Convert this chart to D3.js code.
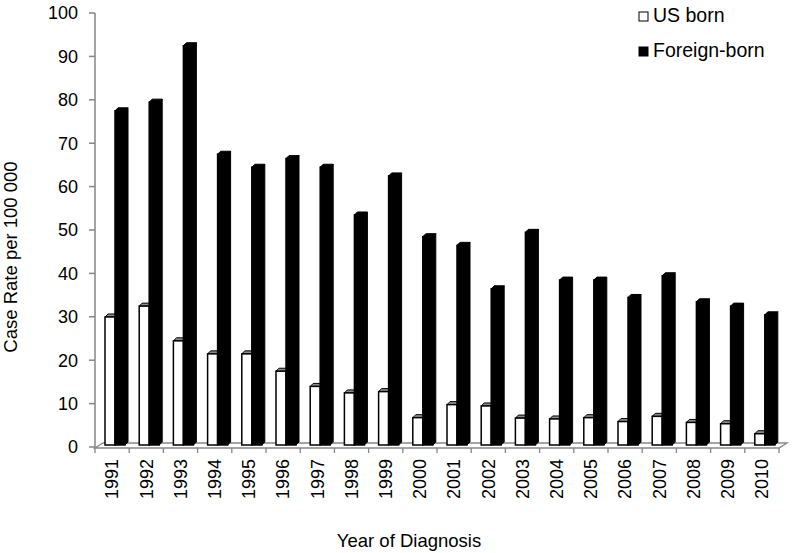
<!DOCTYPE html>
<html>
<head>
<meta charset="utf-8">
<script src="https://cdn.jsdelivr.net/npm/d3@7"></script>
<style>
body { margin: 0; background: #fff; }
text { font-family: "Liberation Sans", Arial, sans-serif; fill: #000; }
</style>
</head>
<body>
<div id="chart"></div>
<script>
var years = ["1991","1992","1993","1994","1995","1996","1997","1998","1999","2000",
             "2001","2002","2003","2004","2005","2006","2007","2008","2009","2010"];
var usBorn = [29.5, 32, 24, 21, 21, 17, 13.5, 12, 12.3, 6.3,
              9.3, 9, 6.2, 6, 6.3, 5.4, 6.6, 5.2, 4.9, 2.6];
var foreignBorn = [77, 79, 92, 67, 64, 66, 64, 53, 62, 48,
                   46, 36, 49, 38, 38, 34, 39, 33, 32, 30];
var yTicks = [0,10,20,30,40,50,60,70,80,90,100];
var seriesNames = ["US born", "Foreign-born"];

var W = 793, H = 553;
var axisCol = "#868686";
var depthX = 3, depthY = 3;   // bar 3d offset
var floorX = 8, floorY = 5;

var svg = d3.select("#chart").append("svg")
	.attr("width", W).attr("height", H);

var x = d3.scaleBand().domain(years).range([95, 779]).paddingInner(0).paddingOuter(0);
var sub = d3.scaleBand().domain(seriesNames).range([10, 30]);
var y = d3.scaleLinear().domain([0, 100]).range([447, 13]);

// floor
var fx0 = x.range()[0], fx1 = x.range()[1], fy = 448;
svg.append("polygon")
	.attr("points", [[fx0,fy],[fx1,fy],[fx1+floorX,fy-floorY],[fx0+floorX,fy-floorY]].join(" "))
	.attr("fill", "#fff")
	.attr("stroke", axisCol)
	.attr("stroke-width", 1.3);

// category ticks
svg.selectAll(".xtick")
	.data(years.concat(["end"]))
	.enter().append("line")
	.attr("x1", function(d, i) { return fx0 + i * x.bandwidth(); })
	.attr("x2", function(d, i) { return fx0 + i * x.bandwidth(); })
	.attr("y1", fy).attr("y2", fy + 5)
	.attr("stroke", axisCol).attr("stroke-width", 1.3);

// bars
var flat = [];
years.forEach(function(yr, i) {
	flat.push({ year: yr, key: "US born", v: usBorn[i] });
	flat.push({ year: yr, key: "Foreign-born", v: foreignBorn[i] });
});

var shift = 2; // bars sit slightly back on floor
var g = svg.selectAll(".bar")
	.data(flat)
	.enter().append("g")
	.attr("class", "bar");

g.each(function(d) {
	var gx = x(d.year) + sub(d.key);
	var w = sub.bandwidth();
	var top = y(d.v) - shift, base = y(0) - shift;
	var el = d3.select(this);
	var white = d.key === "US born";
	// side
	el.append("polygon")
		.attr("points", [[gx+w,base],[gx+w+depthX,base-depthY],[gx+w+depthX,top-depthY],[gx+w,top]].join(" "))
		.attr("fill", white ? "#fff" : "#000")
		.attr("stroke", "#000").attr("stroke-width", 1);
	// top
	el.append("polygon")
		.attr("points", [[gx,top],[gx+depthX,top-depthY],[gx+w+depthX,top-depthY],[gx+w,top]].join(" "))
		.attr("fill", white ? "#8c8c8c" : "#000")
		.attr("stroke", "#000").attr("stroke-width", 1);
	// front
	el.append("rect")
		.attr("x", gx).attr("y", top)
		.attr("width", w).attr("height", base - top)
		.attr("fill", white ? "#fff" : "#000")
		.attr("stroke", "#000").attr("stroke-width", 1.5);
});

// y axis
svg.append("line")
	.attr("x1", 95).attr("x2", 95)
	.attr("y1", y(100)).attr("y2", fy)
	.attr("stroke", axisCol).attr("stroke-width", 1.5);
svg.selectAll(".ytick")
	.data(yTicks)
	.enter().append("line")
	.attr("x1", 89).attr("x2", 95)
	.attr("y1", function(d) { return y(d); })
	.attr("y2", function(d) { return y(d); })
	.attr("stroke", axisCol).attr("stroke-width", 1.5);
svg.selectAll(".ylab")
	.data(yTicks)
	.enter().append("text")
	.attr("x", 78)
	.attr("y", function(d) { return y(d); })
	.attr("dy", "0.35em")
	.attr("text-anchor", "end")
	.style("font-size", "18px")
	.text(function(d) { return d; });

// x labels
svg.selectAll(".xlab")
	.data(years)
	.enter().append("text")
	.attr("transform", function(d) { return "translate(" + (x(d) + x.bandwidth() / 2) + ",459) rotate(-90)"; })
	.attr("dy", "0.35em")
	.attr("text-anchor", "end")
	.style("font-size", "18px")
	.text(function(d) { return d; });

// axis titles
svg.append("text")
	.attr("transform", "translate(17,257) rotate(-90)")
	.attr("text-anchor", "middle")
	.style("font-size", "18.5px")
	.text("Case Rate per 100 000");
svg.append("text")
	.attr("x", 409).attr("y", 547)
	.attr("text-anchor", "middle")
	.style("font-size", "18.5px")
	.text("Year of Diagnosis");

// legend
var leg = svg.selectAll(".legend")
	.data(seriesNames)
	.enter().append("g")
	.attr("transform", function(d, i) { return "translate(639," + (12 + i * 35) + ")"; });
leg.append("rect")
	.attr("width", 9).attr("height", 9)
	.attr("fill", function(d, i) { return i === 0 ? "#fff" : "#000"; })
	.attr("stroke", "#000").attr("stroke-width", 1);
leg.append("text")
	.attr("x", 14).attr("y", 10)
	.style("font-size", "19.5px")
	.text(function(d) { return d; });
</script>
</body>
</html>
